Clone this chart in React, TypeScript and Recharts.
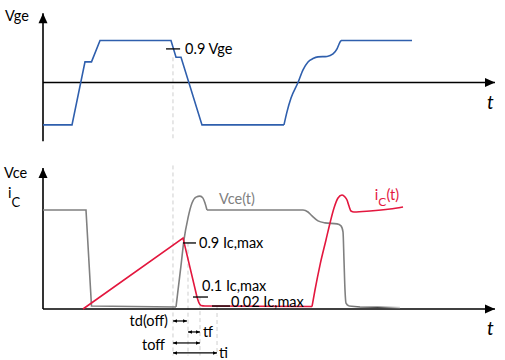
import { LineChart, Line, XAxis, YAxis, ReferenceLine, ReferenceDot } from "recharts";

// time axis runs 0..100 (arbitrary units), levels are normalised
const vgeSteps = [
  { t: 0, v: -1.01 },
  { t: 6.39, v: -1.01 },
  { t: 9.25, v: 0.49 },
  { t: 10.68, v: 0.49 },
  { t: 12.56, v: 1.0 },
  { t: 28.19, v: 1.0 },
  { t: 29.3, v: 0.6 },
  { t: 30.4, v: 0.6 },
  { t: 35.02, v: -1.01 },
  { t: 53.08, v: -1.01 },
];

const vgeRecovery = [
  { t: 53.08, v: -1.01 },
  { t: 53.74, v: -0.7 },
  { t: 54.63, v: -0.37 },
  { t: 56.17, v: 0 },
  { t: 57.27, v: 0.3 },
  { t: 58.37, v: 0.49 },
  { t: 59.47, v: 0.57 },
  { t: 60.57, v: 0.61 },
  { t: 62.56, v: 0.62 },
  { t: 63.88, v: 0.68 },
  { t: 64.76, v: 0.8 },
  { t: 65.31, v: 0.94 },
  { t: 65.64, v: 1.0 },
];

const vgeHold = [
  { t: 65.64, v: 1.0 },
  { t: 81.28, v: 1.0 },
];

const vceWave = [
  { t: 0, v: 1.0 },
  { t: 9.47, v: 1.0 },
  { t: 10.68, v: 0.03 },
  { t: 29.3, v: 0.02 },
];

const vceOvershoot = [
  { t: 29.3, v: 0.02 },
  { t: 29.74, v: 0.19 },
  { t: 30.4, v: 0.44 },
  { t: 31.06, v: 0.7 },
  { t: 31.94, v: 0.92 },
  { t: 32.82, v: 1.07 },
  { t: 33.7, v: 1.13 },
  { t: 34.58, v: 1.14 },
  { t: 35.24, v: 1.12 },
  { t: 35.68, v: 1.07 },
  { t: 36.12, v: 1.0 },
];

const vceOn = [
  { t: 36.12, v: 1.0 },
  { t: 57.27, v: 1.0 },
  { t: 58.37, v: 0.98 },
  { t: 59.25, v: 0.94 },
  { t: 60.57, v: 0.89 },
  { t: 62.11, v: 0.87 },
  { t: 64.76, v: 0.86 },
  { t: 65.64, v: 0.84 },
  { t: 66.08, v: 0.78 },
  { t: 66.3, v: 0.49 },
  { t: 66.52, v: 0.19 },
  { t: 66.74, v: 0.06 },
  { t: 67.4, v: 0.03 },
];

const vceTail = [
  { t: 67.4, v: 0.03 },
  { t: 69.82, v: 0.02 },
  { t: 78.63, v: 0.015 },
];

const icRamp = [
  { t: 8.81, v: 0 },
  { t: 30.84, v: 0.717 },
  { t: 33.92, v: 0.121 },
];

const icFall = [
  { t: 33.92, v: 0.121 },
  { t: 34.36, v: 0.061 },
  { t: 34.8, v: 0.035 },
  { t: 35.68, v: 0.03 },
  { t: 59.25, v: 0.025 },
];

const icRise = [
  { t: 59.25, v: 0.025 },
  { t: 59.91, v: 0.192 },
  { t: 61.01, v: 0.444 },
  { t: 62.33, v: 0.697 },
  { t: 63.22, v: 0.869 },
  { t: 64.1, v: 1.02 },
  { t: 64.98, v: 1.121 },
  { t: 65.86, v: 1.152 },
  { t: 66.52, v: 1.131 },
  { t: 66.96, v: 1.101 },
  { t: 67.4, v: 1.04 },
  { t: 67.84, v: 0.99 },
  { t: 68.5, v: 0.98 },
  { t: 72.03, v: 0.99 },
  { t: 76.43, v: 1.01 },
  { t: 79.3, v: 1.03 },
];

// switching instants
const tOff = 28.63;
const t90 = 31.94;
const t10 = 34.58;
const t02 = 38.33;

const FONT = "Lato, 'Open Sans', sans-serif";
const BLUE = "#2F5FAD";
const RED = "#E3173E";
const GRAY = "#808080";
const DASH = "#cfcfcf";

function arrowShape(kind: "axis" | "both", size: number) {
  return (p: any) => {
    const { x1, y1, x2, y2 } = p;
    const horiz = Math.abs(y2 - y1) < Math.abs(x2 - x1);
    const h = (x: number, y: number, dir: "l" | "r" | "u") => {
      const w = size * 0.45;
      if (dir === "r") return `M${x},${y} L${x - size},${y - w} L${x - size},${y + w} Z`;
      if (dir === "l") return `M${x},${y} L${x + size},${y - w} L${x + size},${y + w} Z`;
      return `M${x},${y} L${x - w},${y + size} L${x + w},${y + size} Z`;
    };
    const heads: string[] = [];
    if (horiz) {
      const l = Math.min(x1, x2);
      const r = Math.max(x1, x2);
      heads.push(h(r, y1, "r"));
      if (kind === "both") heads.push(h(l, y1, "l"));
    } else {
      heads.push(h(x1, Math.min(y1, y2), "u"));
    }
    return (
      <g>
        <line x1={x1} y1={y1} x2={x2} y2={y2} stroke="#000" strokeWidth={kind === "axis" ? 1.6 : 1.2} />
        {heads.map((d, i) => (
          <path key={i} d={d} fill="#000" />
        ))}
      </g>
    );
  };
}

function textShape(text: any, opts: { size?: number; color?: string; anchor?: string; italic?: boolean } = {}) {
  return (p: any) => (
    <text
      x={p.cx}
      y={p.cy}
      fontFamily={FONT}
      fontSize={opts.size ?? 14.5}
      fill={opts.color ?? "#000"}
      textAnchor={opts.anchor ?? "start"}
      dominantBaseline="central"
      fontStyle={opts.italic ? "italic" : "normal"}
    >
      {text}
    </text>
  );
}

const lineProps = {
  dot: false,
  activeDot: false,
  isAnimationActive: false,
  strokeWidth: 1.6,
  dataKey: "v",
} as const;

function TopPanel() {
  return (
    <LineChart width={505} height={150} margin={{ top: 13.2, right: 8, bottom: 8.7, left: 43 }}>
      <XAxis type="number" dataKey="t" domain={[0, 100]} hide allowDataOverflow />
      <YAxis type="number" domain={[-1.4, 1.65]} hide allowDataOverflow />
      <ReferenceLine
        segment={[{ x: tOff, y: 0.6 }, { x: tOff, y: -1.4 }]}
        stroke={DASH}
        strokeDasharray="4 3"
        ifOverflow="visible"
      />
      <ReferenceLine
        segment={[{ x: 0, y: 0 }, { x: 99.56, y: 0 }]}
        shape={arrowShape("axis", 10)}
        ifOverflow="visible"
      />
      <ReferenceLine
        segment={[{ x: 0, y: -1.4 }, { x: 0, y: 1.65 }]}
        shape={arrowShape("axis", 10)}
        ifOverflow="visible"
      />
      <Line {...lineProps} data={vgeSteps} type="linear" stroke={BLUE} />
      <Line {...lineProps} data={vgeRecovery} type="monotone" stroke={BLUE} />
      <Line {...lineProps} data={vgeHold} type="linear" stroke={BLUE} />
      <ReferenceLine
        segment={[{ x: 27.1, y: 0.8 }, { x: 30.2, y: 0.8 }]}
        stroke="#000"
        strokeWidth={1.3}
        ifOverflow="visible"
      />
      <ReferenceDot x={31.3} y={0.8} ifOverflow="visible" shape={textShape("0.9 Vge")} />
      <ReferenceDot x={-8.37} y={1.6} ifOverflow="visible" shape={textShape("Vge")} />
      <ReferenceDot x={97.8} y={-0.45} ifOverflow="visible" shape={textShape("t", { size: 19, italic: true })} />
    </LineChart>
  );
}

function BottomPanel() {
  const dashed = [
    { t: tOff, from: 1.45 },
    { t: t90, from: 0.67 },
    { t: t10, from: 0.12 },
    { t: t02, from: 0.03 },
  ];
  return (
    <LineChart width={505} height={210} margin={{ top: 15.45, right: 8, bottom: 1.5, left: 43 }}>
      <defs>
        <linearGradient id="vceFade" x1="0" y1="0" x2="1" y2="0">
          <stop offset="0%" stopColor={GRAY} />
          <stop offset="55%" stopColor="#444" />
          <stop offset="100%" stopColor="#d8d8d8" />
        </linearGradient>
      </defs>
      <XAxis type="number" dataKey="t" domain={[0, 100]} hide allowDataOverflow />
      <YAxis type="number" domain={[-0.5, 1.45]} hide allowDataOverflow />
      {dashed.map((d) => (
        <ReferenceLine
          key={d.t}
          segment={[{ x: d.t, y: d.from }, { x: d.t, y: -0.47 }]}
          stroke={DASH}
          strokeDasharray="4 3"
          ifOverflow="visible"
        />
      ))}
      <ReferenceLine
        segment={[{ x: 0, y: 0 }, { x: 99.56, y: 0 }]}
        shape={arrowShape("axis", 10)}
        ifOverflow="visible"
      />
      <ReferenceLine
        segment={[{ x: 0, y: 0 }, { x: 0, y: 1.424 }]}
        shape={arrowShape("axis", 10)}
        ifOverflow="visible"
      />
      <Line {...lineProps} data={vceWave} type="linear" stroke={GRAY} />
      <Line {...lineProps} data={vceOvershoot} type="monotone" stroke={GRAY} />
      <Line {...lineProps} data={vceOn} type="monotone" stroke={GRAY} />
      <Line {...lineProps} data={vceTail} type="linear" stroke="url(#vceFade)" />
      <Line {...lineProps} data={icRamp} type="linear" stroke={RED} />
      <Line {...lineProps} data={icFall} type="monotone" stroke={RED} />
      <Line {...lineProps} data={icRise} type="monotone" stroke={RED} />

      <ReferenceLine segment={[{ x: 30.84, y: 0.667 }, { x: 33.7, y: 0.667 }]} stroke="#000" strokeWidth={1.3} ifOverflow="visible" />
      <ReferenceLine segment={[{ x: 33.04, y: 0.121 }, { x: 36.34, y: 0.121 }]} stroke="#000" strokeWidth={1.3} ifOverflow="visible" />
      <ReferenceLine segment={[{ x: 37.22, y: 0.03 }, { x: 41.19, y: 0.03 }]} stroke="#000" strokeWidth={1.3} ifOverflow="visible" />

      <ReferenceLine segment={[{ x: tOff, y: -0.121 }, { x: 31.72, y: -0.121 }]} shape={arrowShape("both", 4)} ifOverflow="visible" />
      <ReferenceLine segment={[{ x: t90, y: -0.232 }, { x: t10, y: -0.232 }]} shape={arrowShape("both", 4)} ifOverflow="visible" />
      <ReferenceLine segment={[{ x: tOff, y: -0.343 }, { x: t10, y: -0.343 }]} shape={arrowShape("both", 4)} ifOverflow="visible" />
      <ReferenceLine segment={[{ x: tOff, y: -0.444 }, { x: t02, y: -0.444 }]} shape={arrowShape("both", 4)} ifOverflow="visible" />

      <ReferenceDot x={34.36} y={0.667} ifOverflow="visible" shape={textShape("0.9 Ic,max")} />
      <ReferenceDot x={35.02} y={0.242} ifOverflow="visible" shape={textShape("0.1 Ic,max")} />
      <ReferenceDot x={41.41} y={0.071} ifOverflow="visible" shape={textShape("0.02 Ic,max")} />
      <ReferenceDot x={27.53} y={-0.121} ifOverflow="visible" shape={textShape("td(off)", { anchor: "end" })} />
      <ReferenceDot x={35.24} y={-0.232} ifOverflow="visible" shape={textShape("tf")} />
      <ReferenceDot x={26.87} y={-0.354} ifOverflow="visible" shape={textShape("toff", { anchor: "end" })} />
      <ReferenceDot x={38.77} y={-0.44} ifOverflow="visible" shape={textShape("ti")} />
      <ReferenceDot x={38.77} y={1.121} ifOverflow="visible" shape={textShape("Vce(t)", { color: GRAY })} />
      <ReferenceDot
        x={73.1}
        y={1.16}
        ifOverflow="visible"
        shape={textShape(
          <>
            i<tspan fontSize={12} dy={7}>C</tspan>
            <tspan dy={-7}>(t)</tspan>
          </>,
          { color: RED }
        )}
      />
      <ReferenceDot x={-8.59} y={1.38} ifOverflow="visible" shape={textShape("Vce")} />
      <ReferenceDot
        x={-7.7}
        y={1.18}
        ifOverflow="visible"
        shape={textShape(
          <>
            i<tspan fontSize={13} dy={10}>C</tspan>
          </>
        )}
      />
      <ReferenceDot x={97.8} y={-0.19} ifOverflow="visible" shape={textShape("t", { size: 19, italic: true })} />
    </LineChart>
  );
}

export default function App() {
  return (
    <div style={{ position: "absolute", left: 0, top: 0, width: 505, height: 360, background: "#fff" }}>
      <div style={{ position: "absolute", left: 0, top: 0 }}>
        <TopPanel />
      </div>
      <div style={{ position: "absolute", left: 0, top: 150 }}>
        <BottomPanel />
      </div>
    </div>
  );
}
